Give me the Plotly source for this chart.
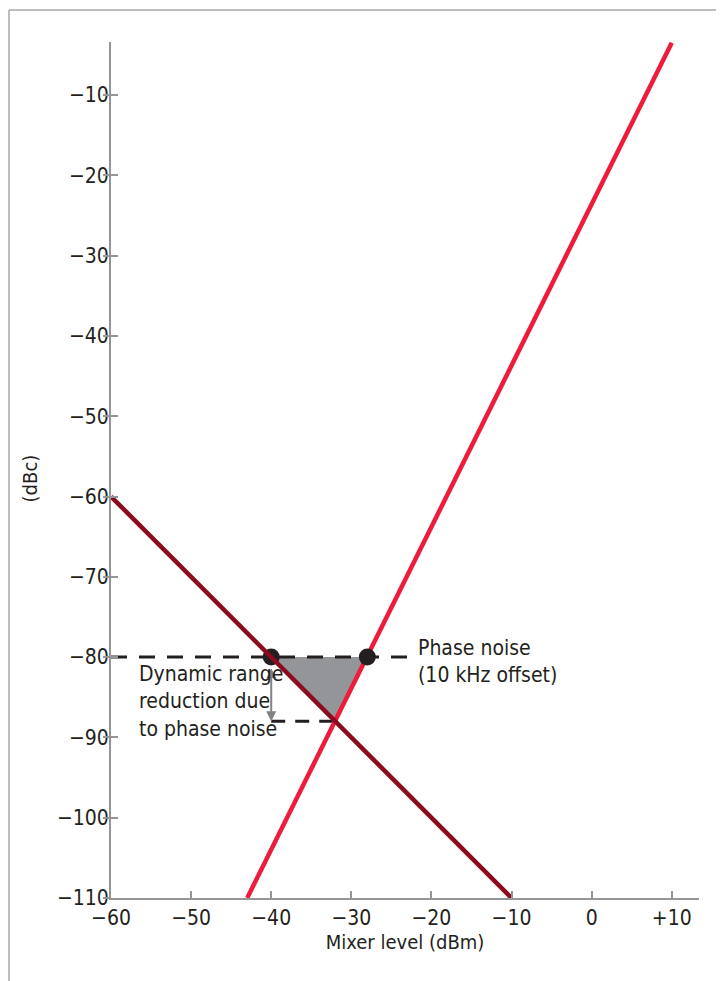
import plotly.graph_objects as go

# data
mixer_rise = [-43, 10]          # bright red line, mixer level (dBm)
dbc_rise = [-110, -3.5]         # bright red line, dBc
mixer_fall = [-60, -10]         # dark red line
dbc_fall = [-60, -110]
phase_noise_x = [-60, -23]      # phase noise level (10 kHz offset)
phase_noise_y = [-80, -80]
reduced_x = [-40, -32]          # reduced dynamic range level
reduced_y = [-88, -88]
dot_x = [-40, -28]
dot_y = [-80, -80]
tri_x = [-40, -28, -32]
tri_y = [-80, -80, -88]

x_ticks = [-60, -50, -40, -30, -20, -10, 0, 10]
x_ticktext = ['\u221260', '\u221250', '\u221240', '\u221230', '\u221220', '\u221210', '0', '+10']
y_ticks = [-110, -100, -90, -80, -70, -60, -50, -40, -30, -20, -10]
y_ticktext = ['\u2212' + str(-v) for v in y_ticks]

FONT = 'DejaVu Sans Condensed, Roboto, sans-serif'
INK = '#231f20'
AXIS_GREY = '#939598'
X_RANGE = [-60, 13.4]
Y_RANGE = [-110, -3.4]

fig = go.Figure()

fig.add_trace(go.Scatter(
    x=tri_x, y=tri_y, fill='toself', fillcolor='#939598',
    mode='lines', line=dict(width=0), hoverinfo='skip'
))
fig.add_trace(go.Scatter(
    x=phase_noise_x, y=phase_noise_y, mode='lines',
    line=dict(color=INK, width=3, dash='16px,12px')
))
fig.add_trace(go.Scatter(
    x=reduced_x, y=reduced_y, mode='lines',
    line=dict(color=INK, width=3, dash='14px,10px')
))
fig.add_trace(go.Scatter(
    x=mixer_fall, y=dbc_fall, mode='lines',
    line=dict(color='#8b0a1e', width=4.5), yaxis='y2'
))
fig.add_trace(go.Scatter(
    x=mixer_rise, y=dbc_rise, mode='lines',
    line=dict(color='#ec1c3a', width=4.5)
))
fig.add_trace(go.Scatter(
    x=dot_x, y=dot_y, mode='markers',
    marker=dict(color=INK, size=17)
))

# double-headed arrow showing the reduction
fig.add_annotation(
    x=reduced_x[0], y=reduced_y[0], ax=dot_x[0], ay=dot_y[0] - 1.2,
    xref='x', yref='y', axref='x', ayref='y', text='',
    showarrow=True, arrowhead=2, startarrowhead=2, arrowside='end+start',
    arrowsize=1, startarrowsize=1, arrowwidth=2, arrowcolor='#808285'
)
fig.add_annotation(
    x=-56.8, y=-85.5, xref='x', yref='y', xanchor='left', yanchor='middle',
    text='Dynamic range<br>reduction due<br>to phase noise', showarrow=False,
    align='left', font=dict(size=21, color=INK, family=FONT)
)
fig.add_annotation(
    x=-21.9, y=-80.5, xref='x', yref='y', xanchor='left', yanchor='middle',
    text='Phase noise<br>(10 kHz offset)', showarrow=False,
    align='left', font=dict(size=21, color=INK, family=FONT)
)
# y axis title
fig.add_annotation(
    x=-0.138, y=0.49, xref='paper', yref='paper', xanchor='center', yanchor='middle',
    text='(dBc)', textangle=-90, showarrow=False,
    font=dict(size=20, color=INK, family=FONT)
)

# outer frame (top and left edges)
fig.add_shape(type='line', xref='paper', yref='paper', x0=-0.1735, x1=1.05, y0=1.0374, y1=1.0374,
              line=dict(color='#a7a9ac', width=1.5))
fig.add_shape(type='line', xref='paper', yref='paper', x0=-0.1735, x1=-0.1735, y0=1.0374, y1=-0.11,
              line=dict(color='#a7a9ac', width=1.5))

fig.update_layout(
    width=716,
    height=973,
    showlegend=False,
    plot_bgcolor='white',
    paper_bgcolor='white',
    margin=dict(l=103, r=25, t=34, b=83),
    font=dict(family=FONT, size=21, color=INK),
    xaxis=dict(
        range=X_RANGE, tickvals=x_ticks, ticktext=x_ticktext,
        showgrid=False, zeroline=False, showline=True,
        linecolor=AXIS_GREY, linewidth=2,
        ticks='inside', ticklen=7, tickwidth=2, tickcolor=AXIS_GREY,
        title=dict(text='Mixer level (dBm)', standoff=6, font=dict(size=20)),
    ),
    yaxis=dict(
        range=Y_RANGE, tickvals=y_ticks, ticktext=y_ticktext,
        showgrid=False, zeroline=False, showline=True,
        linecolor=AXIS_GREY, linewidth=2,
        ticks='inside', ticklen=7, tickwidth=2, tickcolor=AXIS_GREY,
        ticklabelstandoff=-4,
    ),
    yaxis2=dict(
        range=Y_RANGE, tickvals=y_ticks, overlaying='y', side='left',
        showticklabels=False, showgrid=False, zeroline=False, showline=False,
        ticks='outside', ticklen=7, tickwidth=2, tickcolor=AXIS_GREY,
    ),
)

fig.write_html('out.html')
